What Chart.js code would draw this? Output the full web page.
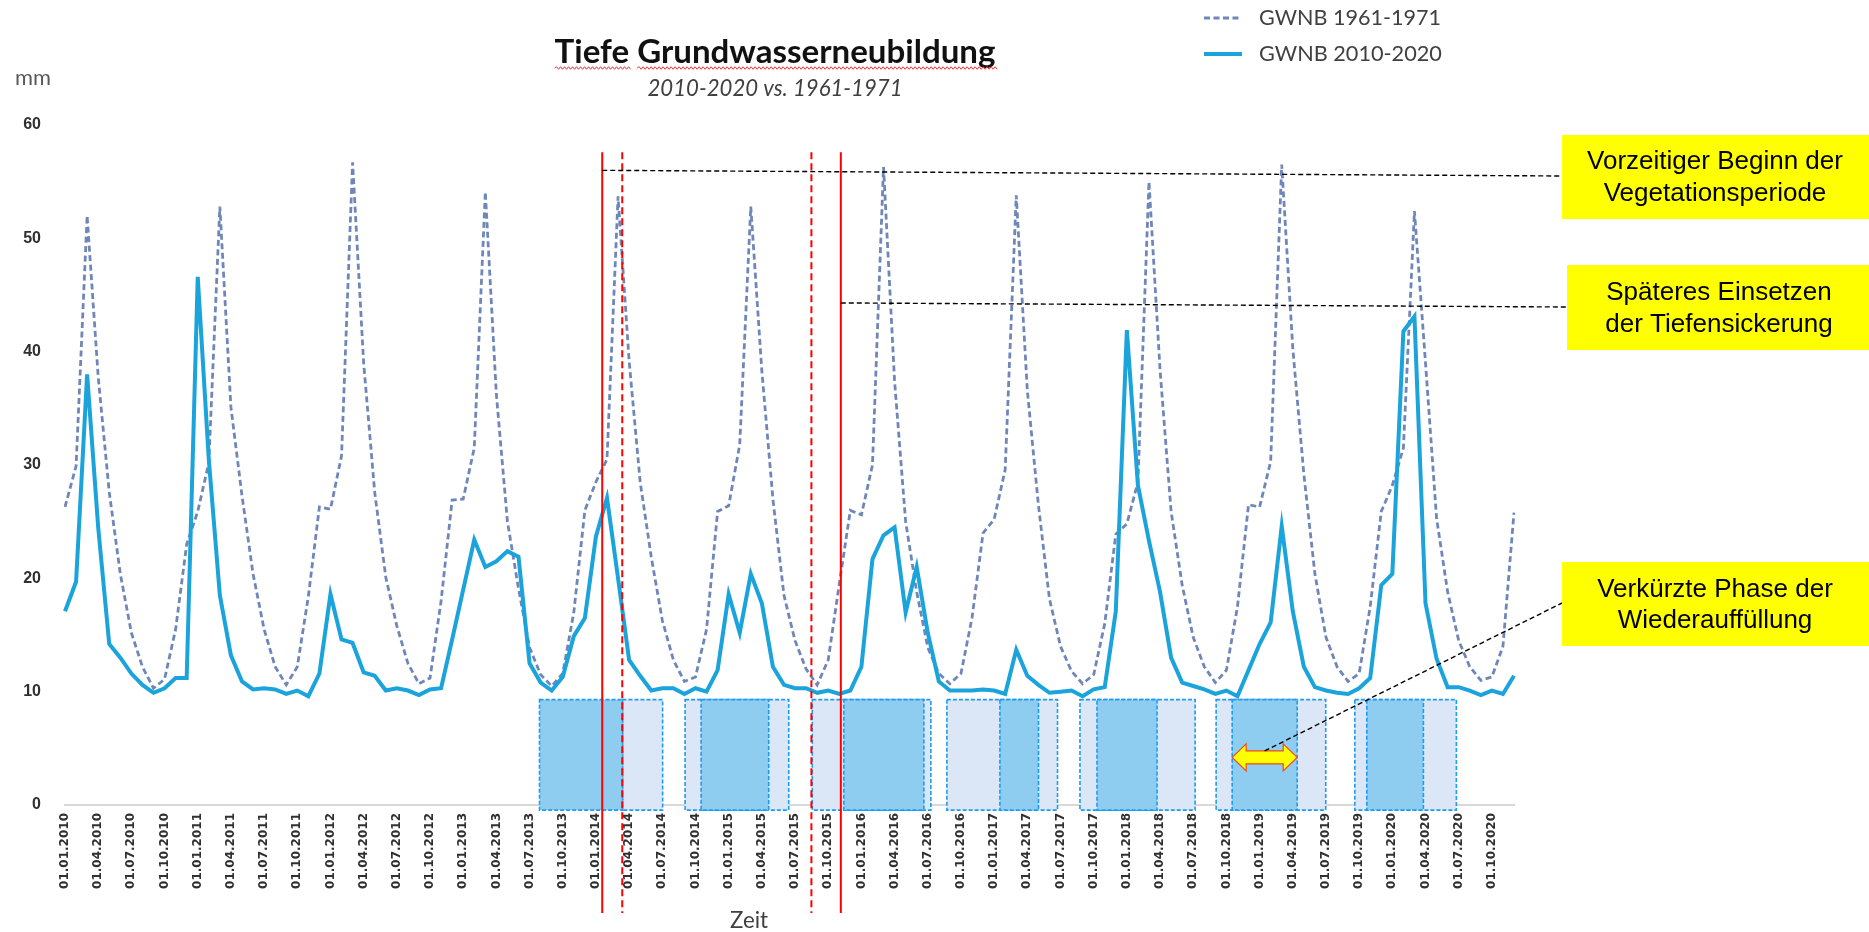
<!DOCTYPE html>
<html>
<head>
<meta charset="utf-8">
<script src="https://cdn.jsdelivr.net/npm/chart.js@4.4.1/dist/chart.umd.min.js"></script>
<style>
html,body{margin:0;padding:0;background:#ffffff;}
canvas{display:block;}
</style>
</head>
<body>
<canvas id="chart" width="1869" height="932"></canvas>
<script>
// ---------- DATA ----------
const categories = [
"01.01.2010","01.02.2010","01.03.2010","01.04.2010","01.05.2010","01.06.2010","01.07.2010","01.08.2010","01.09.2010","01.10.2010","01.11.2010","01.12.2010",
"01.01.2011","01.02.2011","01.03.2011","01.04.2011","01.05.2011","01.06.2011","01.07.2011","01.08.2011","01.09.2011","01.10.2011","01.11.2011","01.12.2011",
"01.01.2012","01.02.2012","01.03.2012","01.04.2012","01.05.2012","01.06.2012","01.07.2012","01.08.2012","01.09.2012","01.10.2012","01.11.2012","01.12.2012",
"01.01.2013","01.02.2013","01.03.2013","01.04.2013","01.05.2013","01.06.2013","01.07.2013","01.08.2013","01.09.2013","01.10.2013","01.11.2013","01.12.2013",
"01.01.2014","01.02.2014","01.03.2014","01.04.2014","01.05.2014","01.06.2014","01.07.2014","01.08.2014","01.09.2014","01.10.2014","01.11.2014","01.12.2014",
"01.01.2015","01.02.2015","01.03.2015","01.04.2015","01.05.2015","01.06.2015","01.07.2015","01.08.2015","01.09.2015","01.10.2015","01.11.2015","01.12.2015",
"01.01.2016","01.02.2016","01.03.2016","01.04.2016","01.05.2016","01.06.2016","01.07.2016","01.08.2016","01.09.2016","01.10.2016","01.11.2016","01.12.2016",
"01.01.2017","01.02.2017","01.03.2017","01.04.2017","01.05.2017","01.06.2017","01.07.2017","01.08.2017","01.09.2017","01.10.2017","01.11.2017","01.12.2017",
"01.01.2018","01.02.2018","01.03.2018","01.04.2018","01.05.2018","01.06.2018","01.07.2018","01.08.2018","01.09.2018","01.10.2018","01.11.2018","01.12.2018",
"01.01.2019","01.02.2019","01.03.2019","01.04.2019","01.05.2019","01.06.2019","01.07.2019","01.08.2019","01.09.2019","01.10.2019","01.11.2019","01.12.2019",
"01.01.2020","01.02.2020","01.03.2020","01.04.2020","01.05.2020","01.06.2020","01.07.2020","01.08.2020","01.09.2020","01.10.2020","01.11.2020","01.12.2020"
];

// tick labels shown on the axis (quarterly)
const tickLabels = [
"01.01.2010","01.04.2010","01.07.2010","01.10.2010","01.01.2011","01.04.2011","01.07.2011","01.10.2011",
"01.01.2012","01.04.2012","01.07.2012","01.10.2012","01.01.2013","01.04.2013","01.07.2013","01.10.2013",
"01.01.2014","01.04.2014","01.07.2014","01.10.2014","01.01.2015","01.04.2015","01.07.2015","01.10.2015",
"01.01.2016","01.04.2016","01.07.2016","01.10.2016","01.01.2017","01.04.2017","01.07.2017","01.10.2017",
"01.01.2018","01.04.2018","01.07.2018","01.10.2018","01.01.2019","01.04.2019","01.07.2019","01.10.2019",
"01.01.2020","01.04.2020","01.07.2020","01.10.2020"
];

const gwnb1961_1971 = [
26.3,29.9,52.0,37.8,27.6,20.4,15.2,12.2,10.3,11.1,15.5,23.0,
25.9,30.2,52.8,35.1,27.3,20.4,15.5,12.2,10.6,12.2,18.4,26.3,
26.1,30.8,56.7,39.0,27.6,20.1,15.8,12.5,10.7,11.2,18.0,26.9,
27.0,31.5,54.1,36.2,25.0,19.1,13.9,11.5,10.5,11.6,17.0,26.0,
28.5,30.5,53.7,39.2,28.5,21.9,16.3,12.8,10.9,11.3,15.5,25.9,
26.4,31.8,52.8,38.3,27.0,18.5,14.5,12.0,10.6,12.8,19.5,26.0,
25.6,30.0,56.3,37.4,25.0,18.8,13.9,11.6,10.7,11.6,16.5,24.0,
25.2,29.6,53.8,36.6,26.5,18.2,14.0,11.8,10.7,11.5,16.0,23.9,
24.8,28.5,55.0,38.4,25.9,19.4,14.8,12.2,10.8,11.9,17.5,26.5,
26.3,30.3,56.5,40.3,29.2,20.4,14.8,12.2,10.9,11.6,17.5,25.9,
28.2,31.5,52.4,39.0,25.3,18.8,14.5,12.2,11.0,11.3,14.0,25.8
];

const gwnb2010_2020 = [
17.1,19.7,38.0,24.5,14.2,13.0,11.6,10.6,9.9,10.3,11.2,11.2,
46.6,30.5,18.5,13.2,10.9,10.2,10.3,10.2,9.8,10.1,9.6,11.6,
18.6,14.6,14.3,11.7,11.4,10.1,10.3,10.1,9.7,10.2,10.3,14.6,
19.0,23.4,21.0,21.5,22.4,21.9,12.5,10.8,10.1,11.3,14.9,16.5,
23.7,27.1,20.0,12.8,11.4,10.1,10.3,10.3,9.8,10.3,10.0,11.9,
18.6,15.2,20.4,17.8,12.2,10.6,10.3,10.3,9.9,10.1,9.8,10.1,
12.2,21.7,23.8,24.5,17.0,21.0,15.2,10.9,10.1,10.1,10.1,10.2,
10.1,9.8,13.7,11.4,10.6,9.9,10.0,10.1,9.6,10.2,10.4,17.1,
41.9,28.2,23.3,18.8,13.0,10.8,10.5,10.2,9.8,10.1,9.6,11.9,
14.2,16.1,24.6,17.1,12.2,10.4,10.1,9.9,9.8,10.3,11.2,19.4,
20.4,41.8,43.1,17.8,12.9,10.4,10.4,10.1,9.7,10.1,9.8,11.4
];

const yTicks = [0,10,20,30,40,50,60];
const seriesNames = ["GWNB 1961-1971","GWNB 2010-2020"];

// phases (in month index units on the category axis)
const lightPhaseStart = [50.4, 56.06, 67.56, 79.73, 91.76, 104.07, 116.61];
const lightPhaseEnd   = [54.03, 65.43, 78.28, 89.73, 102.17, 113.98, 125.79];
const darkPhaseStart  = [42.9, 57.51, 70.41, 84.52, 93.30, 105.52, 117.69];
const darkPhaseEnd    = [50.41, 63.62, 77.65, 88.01, 98.73, 111.40, 122.81];
const redSolidAt  = [48.57, 70.14];
const redDashedAt = [50.38, 67.48];
const arrowFrom = 105.52, arrowTo = 111.40;

const noteTexts = [
  ["Vorzeitiger Beginn der","Vegetationsperiode"],
  ["Späteres Einsetzen","der Tiefensickerung"],
  ["Verkürzte Phase der","Wiederauffüllung"]
];

// ---------- STYLE ----------
const COL_OLD = "#6f87b8";
const COL_NEW = "#1ba3dc";

function fitFont(ctx, text, style, family, targetW, baseSize) {
  ctx.font = style + " " + baseSize + "px " + family;
  const w = ctx.measureText(text).width;
  const size = baseSize * targetW / w;
  ctx.font = style + " " + size.toFixed(2) + "px " + family;
  return size;
}

function squiggle(ctx, x0, x1, y) {
  ctx.beginPath();
  ctx.moveTo(x0, y);
  let up = true;
  for (let x = x0; x < x1; x += 2) {
    ctx.lineTo(x + 2, y + (up ? -1.3 : 1.3));
    up = !up;
  }
  ctx.stroke();
}

const overlay = {
  id: "overlay",
  beforeDatasetsDraw(chart) {
    const {ctx, scales: {x, y}} = chart;
    const top = y.getPixelForValue(9.3);
    const bot = y.getPixelForValue(-0.45);
    ctx.save();
    ctx.lineWidth = 1.6;
    ctx.setLineDash([4, 2]);
    ctx.strokeStyle = "#1c9cf2";
    for (let i = 0; i < lightPhaseStart.length; i++) {
      const xa = x.getPixelForValue(lightPhaseStart[i]);
      const xb = x.getPixelForValue(lightPhaseEnd[i]);
      ctx.fillStyle = "#dbe7f6";
      ctx.fillRect(xa, top, xb - xa, bot - top);
      ctx.strokeRect(xa, top, xb - xa, bot - top);
    }
    for (let i = 0; i < darkPhaseStart.length; i++) {
      const xa = x.getPixelForValue(darkPhaseStart[i]);
      const xb = x.getPixelForValue(darkPhaseEnd[i]);
      ctx.fillStyle = "#8fcdf0";
      ctx.fillRect(xa, top, xb - xa, bot - top);
      ctx.strokeRect(xa, top, xb - xa, bot - top);
    }
    ctx.restore();
  },
  afterDatasetsDraw(chart) {
    const {ctx, scales: {x, y}} = chart;
    ctx.save();
    // red vertical lines
    const rTop = y.getPixelForValue(57.6);
    const rBot = chart.chartArea.bottom + 108;
    ctx.strokeStyle = "#ff0000";
    ctx.lineWidth = 2;
    ctx.setLineDash([]);
    redSolidAt.forEach(v => {
      const px = x.getPixelForValue(v);
      ctx.beginPath(); ctx.moveTo(px, rTop); ctx.lineTo(px, rBot); ctx.stroke();
    });
    ctx.setLineDash([7, 4]);
    redDashedAt.forEach(v => {
      const px = x.getPixelForValue(v);
      ctx.beginPath(); ctx.moveTo(px, rTop); ctx.lineTo(px, rBot); ctx.stroke();
    });
    // black dashed leader lines
    ctx.strokeStyle = "#000000";
    ctx.lineWidth = 1.4;
    ctx.setLineDash([5, 3]);
    ctx.beginPath();
    ctx.moveTo(x.getPixelForValue(redSolidAt[0]), y.getPixelForValue(56.0));
    ctx.lineTo(1562, 176);
    ctx.stroke();
    ctx.beginPath();
    ctx.moveTo(x.getPixelForValue(redSolidAt[1]), y.getPixelForValue(44.3));
    ctx.lineTo(1567, 307);
    ctx.stroke();
    // yellow double arrow
    const ax0 = x.getPixelForValue(arrowFrom), ax1 = x.getPixelForValue(arrowTo);
    const ay = y.getPixelForValue(4.2);
    const head = 14, hh = 13.5, sh = 6.5;
    ctx.setLineDash([]);
    ctx.beginPath();
    ctx.moveTo(ax0, ay);
    ctx.lineTo(ax0 + head, ay - hh);
    ctx.lineTo(ax0 + head, ay - sh);
    ctx.lineTo(ax1 - head, ay - sh);
    ctx.lineTo(ax1 - head, ay - hh);
    ctx.lineTo(ax1, ay);
    ctx.lineTo(ax1 - head, ay + hh);
    ctx.lineTo(ax1 - head, ay + sh);
    ctx.lineTo(ax0 + head, ay + sh);
    ctx.lineTo(ax0 + head, ay + hh);
    ctx.closePath();
    ctx.fillStyle = "#ffff00";
    ctx.fill();
    ctx.strokeStyle = "#f04a1a";
    ctx.lineWidth = 1.2;
    ctx.stroke();
    // leader from arrow to third note
    ctx.strokeStyle = "#000000";
    ctx.lineWidth = 1.4;
    ctx.setLineDash([5, 3]);
    ctx.beginPath();
    ctx.moveTo((ax0 + ax1) / 2, ay - sh);
    ctx.lineTo(1562, 603);
    ctx.stroke();
    ctx.restore();
  },
  afterDraw(chart) {
    const ctx = chart.ctx;
    ctx.save();
    ctx.setLineDash([]);
    // title
    const title = "Tiefe Grundwasserneubildung";
    fitFont(ctx, title, "bold", "Lato, 'Liberation Sans', sans-serif", 441, 30);
    ctx.fillStyle = "#111111";
    ctx.textAlign = "left";
    ctx.textBaseline = "alphabetic";
    const tw = ctx.measureText(title).width;
    const tx = 775 - tw / 2;
    ctx.fillText(title, tx, 63);
    const w1 = ctx.measureText("Tiefe").width;
    const wsp = ctx.measureText("Tiefe ").width;
    ctx.strokeStyle = "#e03a3a";
    ctx.lineWidth = 1;
    squiggle(ctx, tx, tx + w1, 68);
    squiggle(ctx, tx + wsp, tx + tw, 68);
    // subtitle
    const sub = "2010-2020 vs. 1961-1971";
    fitFont(ctx, sub, "italic", "Lato, 'Liberation Sans', sans-serif", 255, 20);
    ctx.fillStyle = "#404040";
    ctx.textAlign = "center";
    ctx.textBaseline = "middle";
    ctx.fillText(sub, 775, 89);
    // unit
    fitFont(ctx, "mm", "normal", "Lato, 'Liberation Sans', sans-serif", 36, 20);
    ctx.fillStyle = "#595959";
    ctx.textAlign = "left";
    ctx.fillText("mm", 15, 78);
    // axis title
    fitFont(ctx, "Zeit", "normal", "Lato, 'Liberation Sans', sans-serif", 38, 20);
    ctx.fillStyle = "#404040";
    ctx.fillText("Zeit", 730, 921);
    // legend
    const lx0 = 1204, lx1 = 1242;
    ctx.strokeStyle = COL_OLD; ctx.lineWidth = 3; ctx.setLineDash([6, 3.5]);
    ctx.beginPath(); ctx.moveTo(lx0, 18); ctx.lineTo(lx1, 18); ctx.stroke();
    ctx.strokeStyle = COL_NEW; ctx.lineWidth = 4; ctx.setLineDash([]);
    ctx.beginPath(); ctx.moveTo(lx0, 54); ctx.lineTo(lx1, 54); ctx.stroke();
    ctx.fillStyle = "#404040";
    fitFont(ctx, seriesNames[0], "normal", "Lato, 'Liberation Sans', sans-serif", 182, 20);
    ctx.fillText(seriesNames[0], 1259, 18);
    fitFont(ctx, seriesNames[1], "normal", "Lato, 'Liberation Sans', sans-serif", 183, 20);
    ctx.fillText(seriesNames[1], 1259, 54);
    // yellow note boxes
    const boxes = [
      {x: 1562, y: 135, w: 307, h: 84, cx: 1715, ly: [162, 194]},
      {x: 1567, y: 265, w: 302, h: 85, cx: 1719, ly: [293, 325]},
      {x: 1562, y: 562, w: 307, h: 84, cx: 1715, ly: [590, 621]}
    ];
    boxes.forEach((b, i) => {
      ctx.fillStyle = "#ffff00";
      ctx.fillRect(b.x, b.y, b.w, b.h);
      ctx.fillStyle = "#000000";
      ctx.font = "26px 'Liberation Sans', Arial, sans-serif";
      ctx.textAlign = "center";
      ctx.textBaseline = "middle";
      noteTexts[i].forEach((t, k) => ctx.fillText(t, b.cx, b.ly[k]));
    });
    ctx.restore();
  }
};

const ctx = document.getElementById("chart").getContext("2d");
new Chart(ctx, {
  type: "line",
  data: {
    labels: categories,
    datasets: [
      {
        label: seriesNames[0],
        data: gwnb1961_1971,
        borderColor: COL_OLD,
        borderWidth: 2.8,
        borderDash: [6, 3.5],
        pointRadius: 0,
        tension: 0,
        fill: false,
        order: 1
      },
      {
        label: seriesNames[1],
        data: gwnb2010_2020,
        borderColor: COL_NEW,
        borderWidth: 4,
        pointRadius: 0,
        tension: 0,
        fill: false,
        order: 0
      }
    ]
  },
  options: {
    responsive: false,
    animation: false,
    devicePixelRatio: 1,
    layout: { padding: { top: 125, right: 355, bottom: 0, left: 0 } },
    plugins: {
      legend: { display: false },
      title: { display: false },
      tooltip: { enabled: false }
    },
    scales: {
      x: {
        type: "category",
        offset: false,
        grid: { display: false, drawTicks: false },
        border: { display: true, color: "#d9d9d9", width: 2 },
        ticks: {
          autoSkip: false,
          minRotation: 90,
          maxRotation: 90,
          padding: 8,
          color: "#303030",
          font: { family: "'DejaVu Sans', sans-serif", size: 12, weight: "bold" },
          callback: function (value, index) {
            const lab = categories[index];
            return tickLabels.includes(lab) ? lab : "";
          }
        },
        afterFit: function (scale) { scale.height = 127; }
      },
      y: {
        min: 0,
        max: 60,
        grid: { display: false, drawTicks: false },
        border: { display: false },
        afterBuildTicks: function (scale) { scale.ticks = yTicks.map(v => ({ value: v })); },
        ticks: {
          padding: 24,
          color: "#303030",
          font: { family: "'Liberation Sans', Arial, sans-serif", size: 16, weight: "bold" }
        },
        afterFit: function (scale) { scale.width = 65; }
      }
    }
  },
  plugins: [overlay]
});
</script>
</body>
</html>
